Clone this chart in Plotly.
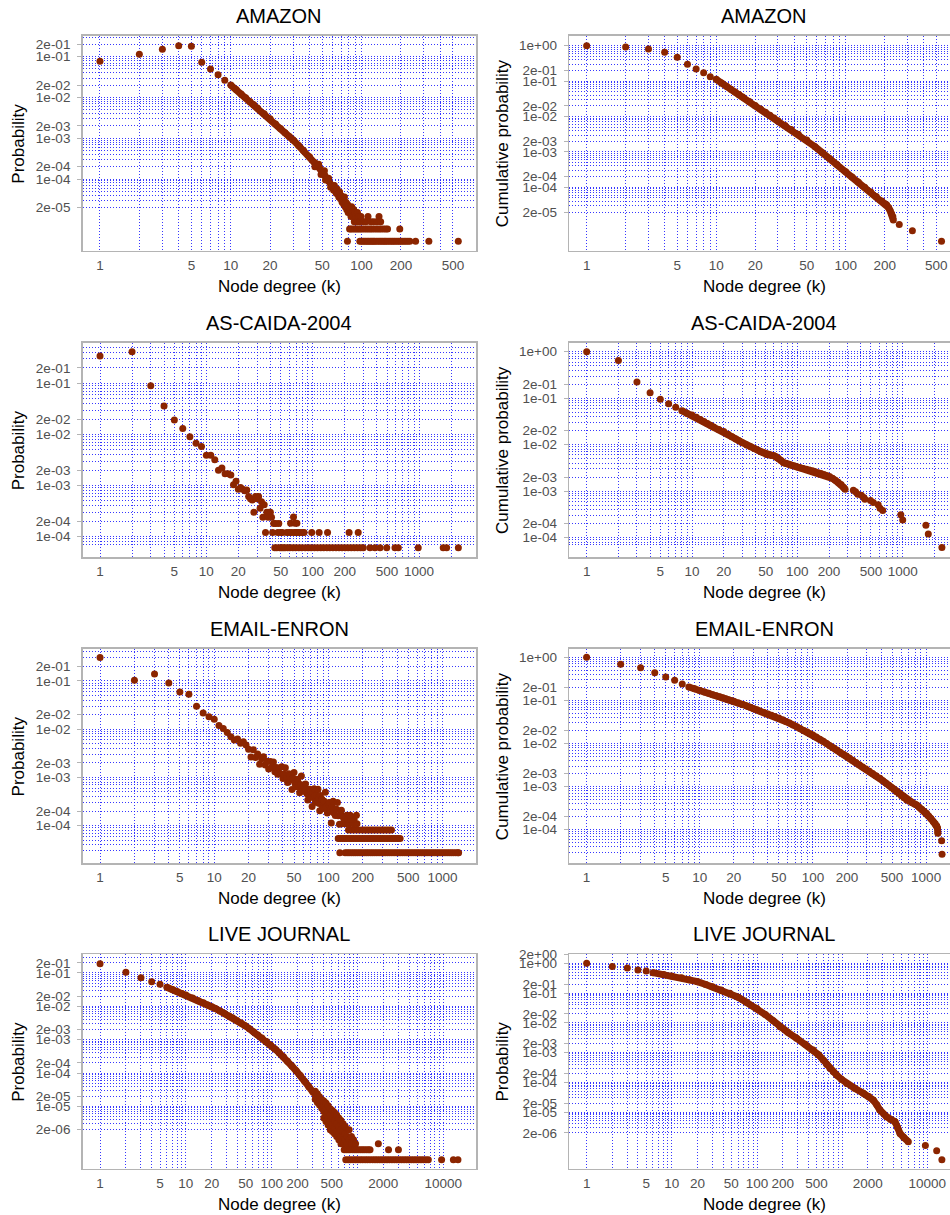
import plotly.graph_objects as go
from plotly.subplots import make_subplots

# ======================= DATA =======================
# ---------- AMAZON : degree distribution ----------
amz_pdf_k = [1, 2, 3, 4, 5, 6, 7, 8, 9]
amz_pdf_p = [0.077, 0.115, 0.152, 0.186, 0.180, 0.073, 0.050, 0.036, 0.0264]
amz_pdf_curve_k = [10, 11, 12, 13, 14, 15, 16, 18, 20, 22, 24, 26, 28, 30, 33, 36, 40, 44, 48, 52, 56, 60]
amz_pdf_curve_p = [0.0202, 0.0156, 0.0122, 0.0098, 0.0080, 0.0066, 0.0055, 0.0040, 0.0030, 0.00224,
                   0.00173, 0.00137, 0.00110, 0.00090, 0.00066, 0.00050, 0.00035, 0.00025, 0.00018,
                   0.000126, 0.000089, 0.000065]
amz_pdf_tail_k = [44, 47, 49, 52, 53, 56, 58,
                  61, 62, 63, 64, 65, 66, 67, 68, 69, 70, 71, 72, 73, 74, 75, 76, 77, 78, 79, 80,
                  81, 82, 83, 84, 85, 86, 87, 88, 89, 90,
                  92, 93, 95, 97, 99, 104, 108, 112, 118, 124, 131, 136, 140]
amz_pdf_tail_p = [2.0e-4, 2.3e-4, 1.3e-4, 1.6e-4, 9.5e-5, 1.05e-4, 6.3e-5,
                  5.4e-5, 6.9e-5, 5.1e-5, 4.5e-5, 5.7e-5, 4.2e-5, 3.6e-5, 4.8e-5, 3.3e-5, 3.9e-5,
                  2.7e-5, 3.0e-5, 2.4e-5, 3.6e-5, 2.1e-5, 2.7e-5, 1.8e-5, 2.4e-5, 1.5e-5, 2.1e-5,
                  1.5e-5, 1.8e-5, 1.2e-5, 2.1e-5, 1.5e-5, 1.2e-5, 1.8e-5, 9.0e-6, 1.5e-5, 1.2e-5,
                  9.0e-6, 1.5e-5, 1.2e-5, 9.0e-6, 1.2e-5, 9.0e-6, 9.0e-6, 1.2e-5, 9.0e-6, 9.0e-6,
                  9.0e-6, 1.2e-5, 9.0e-6]
amz_pdf_floor1_k = [78, 97, 100, 103, 106, 109, 112, 115, 118, 121, 124, 127, 131, 135, 139, 143, 147,
                    151, 155, 160, 165, 170, 175, 180, 186, 192, 198, 204, 211, 218, 226, 234, 259, 327, 549]
amz_pdf_floor1_p = 2.99e-6
amz_pdf_floor2_k = [81, 83, 86, 89, 92, 95, 98, 101, 105, 109, 113, 117, 121, 126, 131, 136, 141, 147,
                    153, 158, 196]
amz_pdf_floor2_p = 5.97e-6

# ---------- AMAZON : cumulative ----------
amz_cdf_k = [1, 2, 3, 4, 5, 6, 7, 8, 9]
amz_cdf_p = [1.0, 0.92, 0.807, 0.65, 0.469, 0.298, 0.22, 0.173, 0.133]
amz_cdf_curve_k = [10, 11, 12, 13, 14, 15, 16, 18, 20, 22, 24, 26, 28, 30, 34, 38, 43, 50, 58, 66, 75,
                   85, 100, 112, 125, 140, 156, 172, 190, 200, 207, 214, 220, 226, 231, 233]
amz_cdf_curve_p = [0.112, 0.0889, 0.0718, 0.0590, 0.0492, 0.0416, 0.0355, 0.0266, 0.0206, 0.0163,
                   0.0132, 0.0108, 0.00902, 0.00761, 0.00560, 0.00427, 0.00315, 0.00217, 0.00140,
                   0.000948, 0.000647, 0.000445, 0.000274, 0.000195, 0.000141, 0.000101, 7.33e-5,
                   5.49e-5, 4.08e-5, 3.51e-5, 3.2e-5, 2.7e-5, 2.2e-5, 1.8e-5, 1.5e-5, 1.2e-5]
amz_cdf_tail_k = [259, 327, 549]
amz_cdf_tail_p = [8.96e-6, 5.97e-6, 2.99e-6]

# ---------- AS-CAIDA-2004 : degree distribution ----------
caida_pdf_k = [1, 2, 3, 4, 5, 6, 7, 8, 9, 10, 11, 12, 13, 14, 15, 16, 17, 18, 19, 20, 21, 22, 23, 24,
               25, 26, 27, 28, 29, 30, 31, 32, 33, 34, 35, 36, 37, 38, 39, 40, 41, 42, 43, 44, 45, 46,
               47, 48, 49, 50, 51, 52]
caida_pdf_p = [0.343, 0.417, 0.090, 0.036, 0.0191, 0.0130, 0.0090, 0.0067, 0.0058, 0.0039,
               0.0039, 0.0032, 0.0020, 0.0022, 0.0017, 0.0017, 0.0016, 0.00103, 0.00121, 0.00085,
               0.00091, 0.00085, 0.00079, 0.00082, 0.00061, 0.00055, 0.00052, 0.00030, 0.00061, 0.00055,
               0.00061, 0.00036, 0.00048, 0.00024, 0.00042, 0.000121, 0.00030, 0.00024, 0.00030, 0.00030,
               0.00024, 0.000121, 0.00018, 6.06e-5, 0.00018, 6.06e-5, 0.000121, 0.00018, 6.06e-5, 0.000121,
               6.06e-5, 0.000121]
caida_pdf_extra_k = [62, 66, 68, 71]
caida_pdf_extra_p = [1.82e-4, 2.43e-4, 1.82e-4, 1.82e-4]
caida_pdf_floor1_k = [53, 55, 58, 61, 65, 69, 74, 79, 85, 91, 97, 104, 111, 119, 127, 136, 145, 155, 166,
                      177, 189, 202, 216, 231, 247, 264, 282, 299, 346, 385, 430, 497, 594, 639, 983,
                      1689, 1818, 2344]
caida_pdf_floor1_p = 6.06e-5
caida_pdf_floor2_k = [57, 60, 63, 67, 70, 73, 76, 80, 83, 98, 115, 138, 220, 268]
caida_pdf_floor2_p = 1.21e-4

# ---------- AS-CAIDA-2004 : cumulative ----------
caida_cdf_k = [1, 2, 3, 4, 5, 6, 7]
caida_cdf_p = [1.0, 0.651, 0.223, 0.131, 0.0944, 0.0762, 0.0635]
caida_cdf_curve_k = [8, 9, 10, 11, 12, 13, 14, 15, 16, 18, 20, 22, 24, 26, 28, 30, 33, 36, 39, 42, 45,
                     48, 51, 54, 57, 60, 63, 66, 70, 74, 78, 83, 88, 94, 100, 107, 114, 122, 130, 139,
                     148, 158, 168, 179, 190, 202, 215, 229, 244, 260, 275, 284]
caida_cdf_curve_p = [0.0539, 0.0471, 0.0435, 0.039, 0.0348, 0.0314, 0.0286, 0.0262, 0.0241, 0.0212,
                     0.0191, 0.0167, 0.0149, 0.0133, 0.0121, 0.0110, 0.0099, 0.00904, 0.00827, 0.00764,
                     0.00708, 0.00659, 0.00617, 0.0060, 0.00589, 0.00575, 0.0055, 0.00508, 0.00457,
                     0.0041, 0.00395, 0.00378, 0.00363, 0.00347, 0.00332, 0.00319, 0.00308, 0.00296,
                     0.00286, 0.00275, 0.00263, 0.0025, 0.00239, 0.00227, 0.00217, 0.00207, 0.00189,
                     0.00171, 0.00155, 0.00139, 0.0012, 0.0011]
caida_cdf_tail_k = [340, 357, 375, 405, 427, 438, 495, 526, 585, 609, 646, 960, 1000, 1660, 1750, 2356]
caida_cdf_tail_p = [1.05e-3, 9.7e-4, 8.6e-4, 8.2e-4, 7.3e-4, 6.7e-4, 6.3e-4, 5.7e-4, 5.1e-4, 4.3e-4,
                    3.85e-4, 3.1e-4, 2.4e-4, 1.84e-4, 1.2e-4, 6.1e-5]

# ---------- EMAIL-ENRON : degree distribution ----------
enron_pdf_k = [1, 2, 3, 4, 5, 6, 7, 8, 9, 10, 11, 12, 13, 14, 15, 16, 17, 18, 19]
enron_pdf_p = [0.305, 0.103, 0.14, 0.091, 0.059, 0.053, 0.030, 0.0217, 0.0182, 0.016, 0.0119, 0.0104,
               0.0085, 0.0070, 0.0060, 0.0063, 0.0051, 0.0055, 0.0047]
enron_pdf_cloud_k = [20, 21, 22, 23, 24, 25, 26, 27, 28, 29, 30, 31, 32, 33, 34, 35, 36, 37, 38, 39,
                     40, 41, 42, 43, 44, 45, 46, 47, 48, 49, 50, 51, 52, 53, 54, 55, 56, 57, 58, 59,
                     60, 61, 62, 63, 64, 65, 66, 67, 68, 69, 70, 71, 72, 73, 74, 75, 76, 77, 78, 79,
                     80, 81, 82, 83, 84, 85, 86, 87, 88, 89, 90, 92, 94, 96, 98, 100, 102, 104, 106,
                     108, 110, 112, 115, 118, 120, 122, 125, 128, 130, 135, 140, 145]
enron_pdf_cloud_p = [3.85e-3, 2.65e-3, 3.75e-3, 2.59e-3, 3.07e-3, 1.87e-3, 2.43e-3, 2.70e-3, 1.81e-3,
                     2.16e-3, 1.49e-3, 2.15e-3, 1.63e-3, 2.09e-3, 1.32e-3, 1.60e-3, 1.16e-3, 1.57e-3,
                     1.20e-3, 1.67e-3,
                     9.5e-4, 1.17e-3, 1.58e-3, 9.6e-4, 7.85e-4, 1.2e-3, 1.07e-3, 8.8e-4, 5.6e-4, 9.6e-4,
                     1.26e-3, 7.5e-4, 6.4e-4, 8.2e-4, 9.2e-4, 6.3e-4, 4.8e-4, 7.1e-4, 1.07e-3, 6.0e-4,
                     5.4e-4, 6.6e-4, 5.1e-4, 7.3e-4, 5.7e-4, 4.6e-4, 3.4e-4, 5.4e-4, 4.1e-4, 5.7e-4,
                     5.1e-4, 3.9e-4, 2.5e-4, 4.9e-4, 3.9e-4, 5.8e-4, 4.2e-4, 3.1e-4, 3.05e-4, 4.3e-4,
                     3.3e-4, 5.7e-4, 3.8e-4, 2.9e-4, 2.04e-4, 4.2e-4, 3.0e-4, 3.56e-4, 3.5e-4, 2.4e-4,
                     2.28e-4, 3.2e-4, 4.95e-4, 2.45e-4, 1.84e-4, 2.8e-4, 3.04e-4, 2.0e-4, 1.14e-4,
                     2.5e-4, 3.22e-4, 1.84e-4, 1.63e-4, 2.2e-4, 3.03e-4, 1.6e-4, 1.07e-4, 1.75e-4,
                     2.09e-4, 1.5e-4, 1.25e-4, 1.64e-4]
enron_pdf_lvl3_k = [150, 160, 170, 182, 195, 205, 215, 226, 238, 250, 263, 277, 292, 307, 323, 340, 357]
enron_pdf_lvl3_p = 8.18e-5
enron_pdf_lvl4_k = [132, 142, 152, 165, 178]
enron_pdf_lvl4_p = 1.09e-4
enron_pdf_lvl5_k = [138, 148, 158, 168]
enron_pdf_lvl5_p = 1.36e-4
enron_pdf_lvl6_k = [155, 176]
enron_pdf_lvl6_p = 1.64e-4
enron_pdf_floor2_k = [122, 127, 133, 139, 145, 152, 159, 166, 174, 182, 190, 199, 208, 218, 228, 238,
                      249, 261, 273, 285, 298, 312, 327, 342, 358, 374, 391, 409, 425]
enron_pdf_floor2_p = 5.45e-5
enron_pdf_floor1_k = [126, 140, 146, 152, 159, 166, 173, 181, 189, 197, 206, 215, 224, 234, 244, 255,
                      266, 278, 290, 303, 316, 330, 345, 360, 376, 392, 409, 427, 446, 466, 486, 507,
                      529, 552, 576, 601, 628, 655, 684, 714, 745, 778, 812, 848, 885, 924, 965, 1007,
                      1051, 1097, 1145, 1195, 1247, 1302, 1359, 1383]
enron_pdf_floor1_p = 2.73e-5

# ---------- EMAIL-ENRON : cumulative ----------
enron_cdf_k = [1, 2, 3, 4, 5, 6, 7]
enron_cdf_p = [1.0, 0.689, 0.575, 0.44, 0.35, 0.292, 0.24]
enron_cdf_curve_k = [8, 9, 10, 11, 12, 13, 14, 15, 16, 17, 18, 19, 20, 22, 24, 26, 28, 30, 32, 34, 37,
                     40, 43, 46, 50, 54, 58, 62, 67, 72, 77, 83, 89, 95, 100, 107, 115, 123, 132, 141,
                     151, 162, 174, 186, 197, 210, 225, 240, 257, 275, 294, 315, 337, 360, 391, 415,
                     440, 467, 495, 520, 548, 575, 605, 637, 673, 710, 750, 790, 826, 870, 915, 960,
                     1008, 1050, 1100, 1155, 1200, 1240, 1260, 1270]
enron_cdf_curve_p = [0.205, 0.187, 0.169, 0.156, 0.146, 0.136, 0.128, 0.121, 0.115, 0.109, 0.104,
                     0.0995, 0.0955, 0.0871, 0.080, 0.0740, 0.0689, 0.0644, 0.0605, 0.0570, 0.0525,
                     0.0486, 0.0454, 0.0425, 0.0392, 0.0356, 0.0324, 0.0297, 0.0268, 0.0244, 0.0223,
                     0.0201, 0.0184, 0.0168, 0.0157, 0.0141, 0.0125, 0.0112, 0.00993, 0.00891,
                     0.00796, 0.00706, 0.00628, 0.00562, 0.00513, 0.00458, 0.00406, 0.00363, 0.00322,
                     0.00286, 0.00255, 0.00226, 0.0020, 0.00179, 0.00155, 0.00136, 0.00121, 0.00107,
                     0.000942, 0.000851, 0.000762, 0.000687, 0.000615, 0.000552, 0.00049, 0.000456,
                     0.000423, 0.000394, 0.000372, 0.000331, 0.000297, 0.000267, 0.00024, 0.00021,
                     0.000182, 0.000155, 0.000138, 0.000124, 0.000109, 0.000082]
enron_cdf_tail_k = [1371, 1383]
enron_cdf_tail_p = [5.5e-5, 2.7e-5]

# ---------- LIVE JOURNAL : degree distribution ----------
lj_pdf_k = [1, 2, 3, 4, 5]
lj_pdf_p = [0.19, 0.105, 0.072, 0.055, 0.046]
lj_pdf_curve_k = [6, 7, 8, 9, 10, 12, 14, 16, 18, 20, 22, 25, 28, 32, 35, 39, 44, 49, 55, 62, 69, 77,
                  87, 97, 109, 122, 137, 153, 172, 193, 216, 242, 271, 304]
lj_pdf_curve_p = [0.0372, 0.0317, 0.0275, 0.0244, 0.0219, 0.0177, 0.0148, 0.0127, 0.0110, 0.00977,
                  0.00859, 0.00719, 0.00617, 0.00513, 0.00453, 0.00382, 0.00314, 0.00263, 0.00213,
                  0.0017, 0.00138, 0.00112, 0.000887, 0.000692, 0.000528, 0.000406, 0.000309,
                  0.000225, 0.000161, 0.000116, 8.43e-5, 5.7e-5, 3.89e-5, 2.63e-5]
lj_pdf_cloud_k = [322, 322, 322, 341, 341, 341, 361, 361, 361, 383, 383, 383, 405, 405, 405, 405,
                  429, 429, 429, 429, 455, 455, 455, 455, 482, 482, 482, 482, 510, 510, 510, 510,
                  540, 540, 540, 540, 572, 572, 572, 572, 606, 606, 606, 606, 642, 642, 642, 642,
                  680, 680, 680, 680, 720, 720, 720, 760, 760, 800, 800, 850, 850, 900, 950]
lj_pdf_cloud_p = [2.16e-5, 2.85e-5, 1.64e-5, 1.78e-5, 2.4e-5, 1.3e-5, 1.46e-5, 1.95e-5, 1.1e-5,
                  1.2e-5, 1.6e-5, 8.8e-6, 1.0e-5, 1.45e-5, 7.0e-6, 4.5e-6,
                  8.2e-6, 1.25e-5, 5.5e-6, 3.5e-6, 6.7e-6, 1.05e-5, 4.5e-6, 2.75e-6,
                  5.5e-6, 8.5e-6, 3.5e-6, 2.0e-6, 4.5e-6, 7.5e-6, 2.75e-6, 1.75e-6,
                  3.75e-6, 6.5e-6, 2.25e-6, 1.5e-6, 3.0e-6, 5.5e-6, 1.75e-6, 1.25e-6,
                  2.5e-6, 4.5e-6, 1.5e-6, 1.0e-6, 2.0e-6, 3.75e-6, 1.25e-6, 7.5e-7,
                  1.75e-6, 3.0e-6, 1.0e-6, 7.5e-7, 1.5e-6, 2.5e-6, 1.0e-6, 1.25e-6, 7.5e-7,
                  1.0e-6, 2.0e-6, 7.5e-7, 1.25e-6, 1.0e-6, 7.5e-7]
lj_pdf_extra_k = [1750]
lj_pdf_extra_p = [7.5e-7]
lj_pdf_floor2_k = [700, 740, 780, 820, 870, 920, 970, 1020, 1080, 1140, 1200, 1270, 1340, 1400, 2300, 3000]
lj_pdf_floor2_p = 5.0e-7
lj_pdf_floor1_k = [730, 780, 830, 890, 950, 1010, 1080, 1150, 1230, 1310, 1400, 1500, 1600, 1700, 1820,
                   1940, 2070, 2210, 2360, 2520, 2690, 2870, 3060, 3270, 3490, 3720, 3970, 4240, 4530,
                   4830, 5160, 5500, 5870, 6270, 6690, 9550, 13100, 14815]
lj_pdf_floor1_p = 2.5e-7

# ---------- LIVE JOURNAL : cumulative ----------
lj_cdf_k = [1, 2, 3, 4, 5]
lj_cdf_p = [1.0, 0.78, 0.69, 0.60, 0.55]
lj_cdf_curve_k = [6, 8, 10, 13, 16, 20, 25, 30, 38, 48, 60, 75, 99, 125, 155, 186, 230, 292, 370, 458,
                  530, 600, 660, 718, 790, 860, 980, 1130, 1400, 1770, 2050, 2320, 2550, 2770, 3320,
                  3700, 4170, 4480, 4780, 5300, 5980]
lj_cdf_curve_p = [0.485, 0.42, 0.375, 0.324, 0.282, 0.241, 0.195, 0.162, 0.126, 0.0977, 0.0724, 0.049,
                  0.0309, 0.019, 0.0117, 0.0074, 0.00479, 0.00302, 0.00191, 0.00122, 0.000832,
                  0.000562, 0.000398, 0.000295, 0.000224, 0.000174, 0.000126, 9.1e-5, 6.3e-5,
                  4.27e-5, 3.31e-5, 2.51e-5, 1.74e-5, 1.17e-5, 6.9e-6, 5.6e-6, 4.7e-6, 3.0e-6,
                  1.9e-6, 1.4e-6, 1.0e-6]
lj_cdf_tail_k = [9480, 12870, 14815]
lj_cdf_tail_p = [7.5e-7, 5.0e-7, 2.5e-7]

# ---------- tick labels ----------
x_ticks_amz = ["1", "5", "10", "20", "50", "100", "200", "500"]
x_ticks_mid = ["1", "5", "10", "20", "50", "100", "200", "500", "1000"]
x_ticks_lj = ["1", "5", "10", "20", "50", "100", "200", "500", "2000", "10000"]
y_ticks_amz_pdf = ["2e-01", "1e-01", "2e-02", "1e-02", "2e-03", "1e-03", "2e-04", "1e-04", "2e-05"]
y_ticks_amz_cdf = ["1e+00", "2e-01", "1e-01", "2e-02", "1e-02", "2e-03", "1e-03", "2e-04", "1e-04", "2e-05"]
y_ticks_mid_pdf = ["2e-01", "1e-01", "2e-02", "1e-02", "2e-03", "1e-03", "2e-04", "1e-04"]
y_ticks_mid_cdf = ["1e+00", "2e-01", "1e-01", "2e-02", "1e-02", "2e-03", "1e-03", "2e-04", "1e-04"]
y_ticks_lj_pdf = ["2e-01", "1e-01", "2e-02", "1e-02", "2e-03", "1e-03", "2e-04", "1e-04", "2e-05",
                  "1e-05", "2e-06"]
y_ticks_lj_cdf = ["2e+00", "1e+00", "2e-01", "1e-01", "2e-02", "1e-02", "2e-03", "1e-03", "2e-04",
                  "1e-04", "2e-05", "1e-05", "2e-06"]

# ======================= STYLE / LAYOUT =======================
W, H = 950, 1215
FONT = "Liberation Sans, Arial, Helvetica, sans-serif"
PT = "#8B2500"
GRID = "rgba(20,20,255,0.85)"
DASH = "1px,2px"
FRAME = "#b4b4b4"
MS = 7

rows_top = [36.0, 342.7, 649.0, 954.3]
rows_bot = [250.7, 557.3, 863.3, 1168.7]
col_left = [82.7, 569.3]
col_right = [476.0, 950.0]
col_center = [279.3, 764.0]
ytitle_x = [18.3, 502.0]


def rep(ks, v):
    return [v] * len(ks)


def grid_vals(lo, hi, exclude):
    out = []
    for e in range(-9, 6):
        for j in range(1, 10):
            v = j * 10.0 ** e
            if lo * (1 - 1e-9) <= v <= hi * (1 + 1e-9):
                if all(abs(v - x) > 1e-9 * v for x in exclude):
                    out.append(v)
    return out


panels = [
    dict(row=1, col=1, title="AMAZON", ytitle="Probability",
         xr=[-0.132, 2.875], yr=[-5.758, -0.492], xt=x_ticks_amz, yt=y_ticks_amz_pdf,
         ylo=2e-5, xhi=549,
         pts=[(amz_pdf_k, amz_pdf_p), (amz_pdf_tail_k, amz_pdf_tail_p),
              (amz_pdf_floor1_k, rep(amz_pdf_floor1_k, amz_pdf_floor1_p)),
              (amz_pdf_floor2_k, rep(amz_pdf_floor2_k, amz_pdf_floor2_p))],
         curves=[(amz_pdf_curve_k, amz_pdf_curve_p)]),
    dict(row=1, col=2, title="AMAZON", ytitle="Cumulative probability",
         xr=[-0.134, 2.805], yr=[-5.791, 0.274], xt=x_ticks_amz, yt=y_ticks_amz_cdf,
         ylo=2e-5, xhi=549,
         pts=[(amz_cdf_k, amz_cdf_p), (amz_cdf_tail_k, amz_cdf_tail_p)],
         curves=[(amz_cdf_curve_k, amz_cdf_curve_p)]),
    dict(row=2, col=1, title="AS-CAIDA-2004", ytitle="Probability",
         xr=[-0.163, 3.536], yr=[-4.405, -0.204], xt=x_ticks_mid, yt=y_ticks_mid_pdf,
         ylo=7e-5, xhi=2344,
         pts=[(caida_pdf_k, caida_pdf_p), (caida_pdf_extra_k, caida_pdf_extra_p),
              (caida_pdf_floor1_k, rep(caida_pdf_floor1_k, caida_pdf_floor1_p)),
              (caida_pdf_floor2_k, rep(caida_pdf_floor2_k, caida_pdf_floor2_p))],
         curves=[]),
    dict(row=2, col=2, title="AS-CAIDA-2004", ytitle="Cumulative probability",
         xr=[-0.165, 3.449], yr=[-4.423, 0.194], xt=x_ticks_mid, yt=y_ticks_mid_cdf,
         ylo=7e-5, xhi=2356,
         pts=[(caida_cdf_k, caida_cdf_p), (caida_cdf_tail_k, caida_cdf_tail_p)],
         curves=[(caida_cdf_curve_k, caida_cdf_curve_p)]),
    dict(row=3, col=1, title="EMAIL-ENRON", ytitle="Probability",
         xr=[-0.152, 3.293], yr=[-4.780, -0.337], xt=x_ticks_mid, yt=y_ticks_mid_pdf,
         ylo=3e-5, xhi=1383,
         pts=[(enron_pdf_k, enron_pdf_p), (enron_pdf_cloud_k, enron_pdf_cloud_p),
              (enron_pdf_lvl3_k, rep(enron_pdf_lvl3_k, enron_pdf_lvl3_p)),
              (enron_pdf_lvl4_k, rep(enron_pdf_lvl4_k, enron_pdf_lvl4_p)),
              (enron_pdf_lvl5_k, rep(enron_pdf_lvl5_k, enron_pdf_lvl5_p)),
              (enron_pdf_lvl6_k, rep(enron_pdf_lvl6_k, enron_pdf_lvl6_p)),
              (enron_pdf_floor2_k, rep(enron_pdf_floor2_k, enron_pdf_floor2_p)),
              (enron_pdf_floor1_k, rep(enron_pdf_floor1_k, enron_pdf_floor1_p))],
         curves=[]),
    dict(row=3, col=2, title="EMAIL-ENRON", ytitle="Cumulative probability",
         xr=[-0.153, 3.211], yr=[-4.781, 0.193], xt=x_ticks_mid, yt=y_ticks_mid_cdf,
         ylo=3e-5, xhi=1383,
         pts=[(enron_cdf_k, enron_cdf_p), (enron_cdf_tail_k, enron_cdf_tail_p)],
         curves=[(enron_cdf_curve_k, enron_cdf_curve_p)]),
    dict(row=4, col=1, title="LIVE JOURNAL", ytitle="Probability",
         xr=[-0.202, 4.381], yr=[-6.87, -0.44], xt=x_ticks_lj, yt=y_ticks_lj_pdf,
         ylo=2e-6, xhi=14815,
         pts=[(lj_pdf_k, lj_pdf_p), (lj_pdf_cloud_k, lj_pdf_cloud_p), (lj_pdf_extra_k, lj_pdf_extra_p),
              (lj_pdf_floor2_k, rep(lj_pdf_floor2_k, lj_pdf_floor2_p)),
              (lj_pdf_floor1_k, rep(lj_pdf_floor1_k, lj_pdf_floor1_p))],
         curves=[(lj_pdf_curve_k, lj_pdf_curve_p)]),
    dict(row=4, col=2, title="LIVE JOURNAL", ytitle="Probability",
         xr=[-0.204, 4.266], yr=[-6.906, 0.303], xt=x_ticks_lj, yt=y_ticks_lj_cdf,
         ylo=2e-6, xhi=14815,
         pts=[(lj_cdf_k, lj_cdf_p), (lj_cdf_tail_k, lj_cdf_tail_p)],
         curves=[(lj_cdf_curve_k, lj_cdf_curve_p)]),
]

fig = make_subplots(rows=4, cols=2)
annotations = []

for P in panels:
    r, c = P["row"], P["col"]
    ci = c - 1
    for kx, py in P["curves"]:
        fig.add_trace(go.Scatter(x=kx, y=py, mode="lines+markers",
                                 line=dict(color=PT, width=MS),
                                 marker=dict(size=MS, color=PT, line=dict(width=0)),
                                 hoverinfo="skip", showlegend=False), row=r, col=c)
    for kx, py in P["pts"]:
        fig.add_trace(go.Scatter(x=kx, y=py, mode="markers",
                                 marker=dict(size=MS, color=PT, line=dict(width=0)),
                                 hoverinfo="skip", showlegend=False), row=r, col=c)

    xtv = [float(t) for t in P["xt"]]
    ytv = [float(t) for t in P["yt"]]
    xminor = grid_vals(1.0, min(P["xhi"], 10 ** P["xr"][1]), xtv)
    yminor = grid_vals(P["ylo"], 10 ** P["yr"][1], ytv)

    dom_x = [col_left[ci] / W, col_right[ci] / W]
    dom_y = [1 - rows_bot[r - 1] / H, 1 - rows_top[r - 1] / H]

    fig.update_xaxes(type="log", range=P["xr"], domain=dom_x, automargin=False,
                     tickmode="array", tickvals=xtv, ticktext=P["xt"], ticks="",
                     ticklabelstandoff=1,
                     tickfont=dict(family=FONT, size=13.5, color="#505050"),
                     showgrid=True, gridcolor=GRID, gridwidth=1, griddash=DASH,
                     minor=dict(tickmode="array", tickvals=xminor, showgrid=True, ticks="",
                                gridcolor=GRID, gridwidth=1, griddash=DASH),
                     showline=True, linecolor=FRAME, linewidth=1.6, mirror=True,
                     zeroline=False, row=r, col=c)
    fig.update_yaxes(type="log", range=P["yr"], domain=dom_y, automargin=False,
                     tickmode="array", tickvals=ytv, ticktext=P["yt"], ticks="outside",
                     ticklen=4, tickwidth=1, tickcolor=FRAME, ticklabelstandoff=4,
                     tickfont=dict(family=FONT, size=13.5, color="#505050"),
                     showgrid=True, gridcolor=GRID, gridwidth=1, griddash=DASH,
                     minor=dict(tickmode="array", tickvals=yminor, showgrid=True, ticks="",
                                gridcolor=GRID, gridwidth=1, griddash=DASH),
                     showline=True, linecolor=FRAME, linewidth=1.6, mirror=(c == 1),
                     zeroline=False, row=r, col=c)

    top, bot = rows_top[r - 1], rows_bot[r - 1]
    annotations.append(dict(text=P["title"], x=col_center[ci] / W, y=1 - (top - 20.0) / H,
                            xref="paper", yref="paper", xanchor="center", yanchor="middle",
                            showarrow=False, font=dict(family=FONT, size=20, color="black")))
    annotations.append(dict(text="Node degree (k)", x=col_center[ci] / W, y=1 - (bot + 35.5) / H,
                            xref="paper", yref="paper", xanchor="center", yanchor="middle",
                            showarrow=False, font=dict(family=FONT, size=17, color="black")))
    annotations.append(dict(text=P["ytitle"], x=ytitle_x[ci] / W, y=1 - ((top + bot) / 2) / H,
                            xref="paper", yref="paper", xanchor="center", yanchor="middle",
                            textangle=-90, showarrow=False,
                            font=dict(family=FONT, size=17, color="black")))

fig.update_layout(width=W, height=H, margin=dict(l=0, r=0, t=0, b=0),
                  paper_bgcolor="white", plot_bgcolor="white", showlegend=False,
                  font=dict(family=FONT), annotations=annotations)

fig.write_html("out.html", config={"displayModeBar": False, "staticPlot": True},
               post_script="document.body.style.margin='0px';document.body.style.overflow='hidden';")
